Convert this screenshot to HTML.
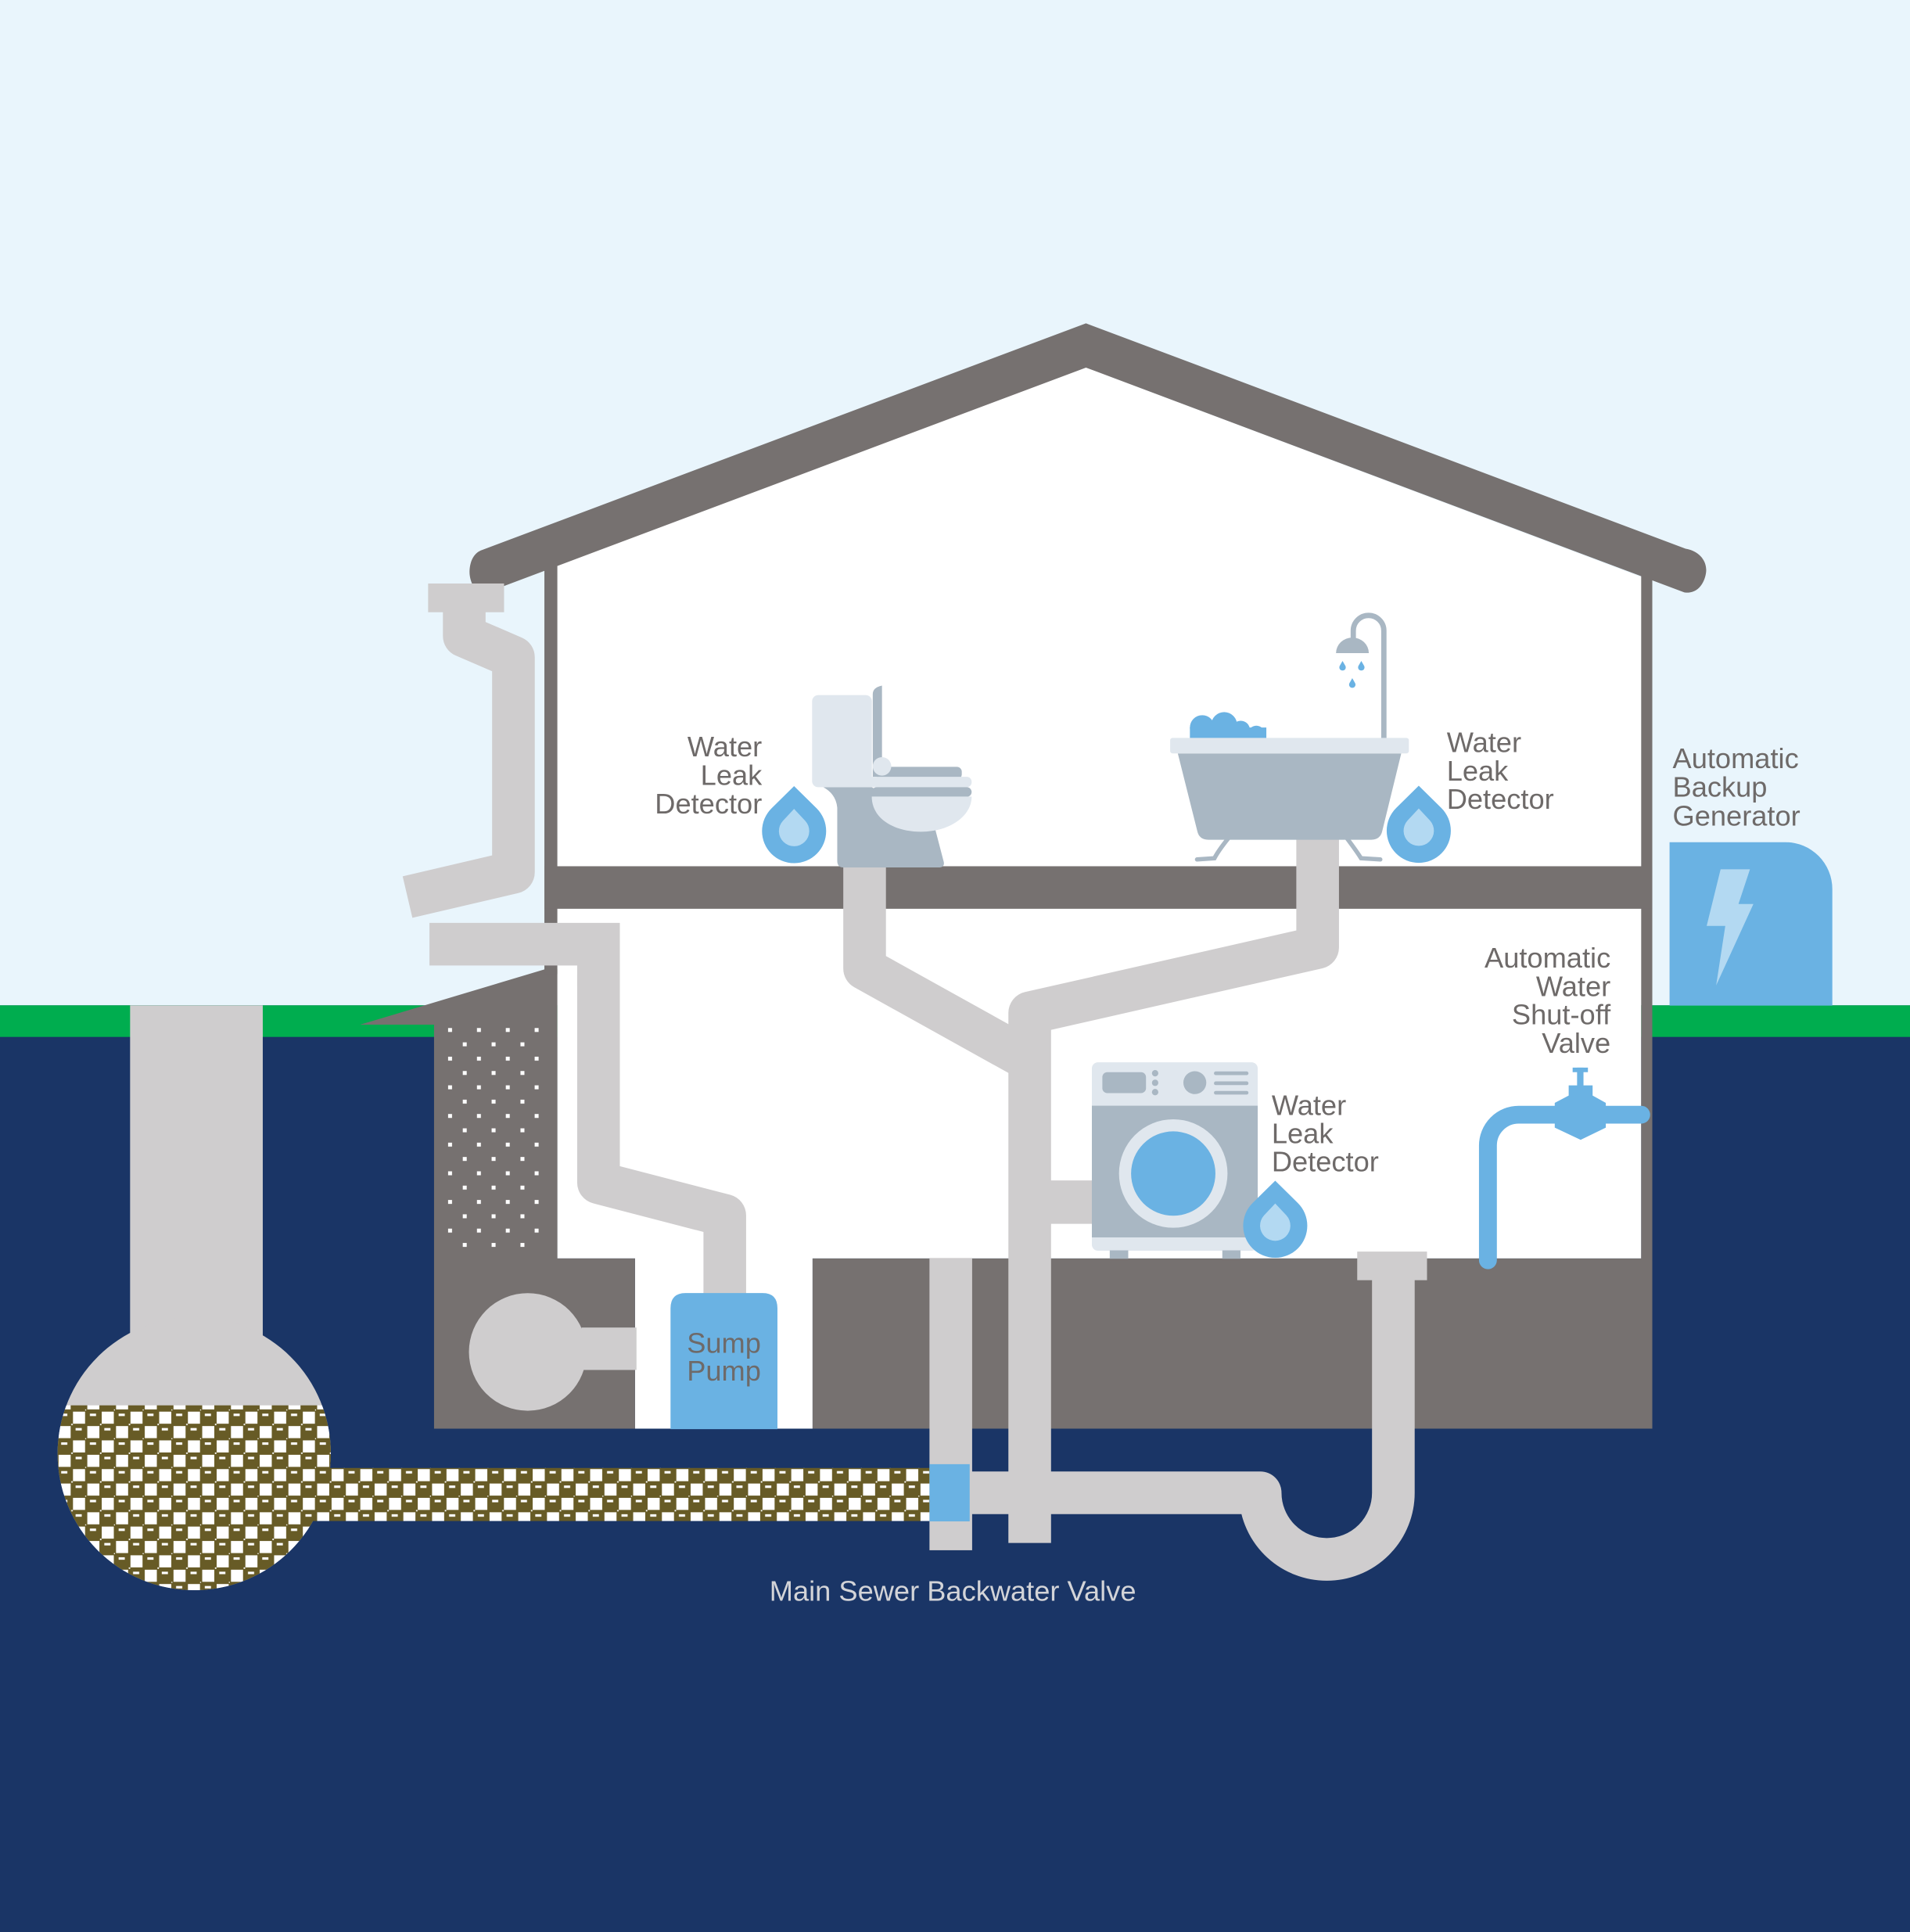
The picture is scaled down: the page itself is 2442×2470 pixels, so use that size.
<!DOCTYPE html>
<html><head><meta charset="utf-8">
<style>
html,body{margin:0;padding:0;background:#1a3566;}
svg{display:block;}
text{font-family:"Liberation Sans",Arial,sans-serif;}
</style></head><body>
<svg width="2442" height="2470" viewBox="0 0 1549 1566.8" preserveAspectRatio="none" xmlns="http://www.w3.org/2000/svg">
<defs>
<pattern id="chk" patternUnits="userSpaceOnUse" x="0" y="1190.5" width="23.3" height="23.3">
 <rect width="23.3" height="23.3" fill="#675b26"/>
 <rect x="12.6" y="0.9" width="9.8" height="9.8" fill="#ffffff"/>
 <rect x="0.9" y="12.6" width="9.8" height="9.8" fill="#ffffff"/>
 <rect x="11.2" y="10.7" width="1.2" height="1.2" fill="#ffffff"/>
 <rect x="22.5" y="22.4" width="0.8" height="0.9" fill="#ffffff"/>
 <rect x="3" y="2.5" width="5" height="2" fill="#ffffff"/>
 <rect x="14.7" y="14.2" width="5" height="2" fill="#ffffff"/>
</pattern>
<pattern id="dots" patternUnits="userSpaceOnUse" x="363.4" y="833.7" width="23.4" height="23.24">
 <rect x="0" y="0" width="3.2" height="3.2" fill="#ffffff"/>
 <rect x="11.9" y="11.62" width="3.2" height="3.2" fill="#ffffff"/>
</pattern>
<clipPath id="bulb"><circle cx="157.5" cy="1178.8" r="110.8"/></clipPath>
</defs>

<!-- background -->
<rect x="0" y="0" width="1549" height="815.3" fill="#e9f5fc"/>
<rect x="0" y="815.3" width="1549" height="25.7" fill="#00ad4f"/>
<rect x="0" y="841" width="1549" height="726" fill="#1a3566"/>

<!-- house interior -->
<polygon points="452,458 880.7,298 1331,468 1331,1020.6 452,1020.6" fill="#ffffff"/>
<rect x="515" y="1020" width="144" height="138.6" fill="#ffffff"/>

<!-- foundation -->
<path d="M292,831 L442,786 L452,786 L452,1020.6 L515,1020.6 L515,1158.6 L352,1158.6 L352,831 Z" fill="#767170"/>
<rect x="362" y="832" width="76" height="180" fill="url(#dots)"/>
<rect x="659" y="1020.6" width="681" height="138" fill="#767170"/>
<rect x="441.5" y="455" width="10.5" height="335" fill="#767170"/>
<rect x="1331" y="460" width="9" height="562" fill="#767170"/>
<rect x="441.5" y="702.5" width="898.5" height="34.5" fill="#767170"/>

<!-- roof -->
<path d="M391,446 L880.7,262.2 L1367,445 C1379,447 1385,456 1383.5,465 C1382,474 1376,482 1366,480.4 L880.7,298.1 L391,481.9 C385,480 380.5,471 380.8,463 C381.2,454 385,448 391,446 Z" fill="#767170"/>

<!-- septic / sewer connection -->
<rect x="105.5" y="815.3" width="107.6" height="280" fill="#cfcdce"/>
<circle cx="157.5" cy="1178.8" r="110.8" fill="#cfcdce"/>
<rect x="40" y="1139.7" width="240" height="160" fill="url(#chk)" clip-path="url(#bulb)"/>
<rect x="230" y="1190.5" width="524" height="43" fill="url(#chk)"/>

<!-- pipes -->
<rect x="347.2" y="473.2" width="61.6" height="23.3" fill="#cfcdce"/>
<g fill="none" stroke="#cfcdce" stroke-width="34.6">
 <path d="M376.5,495 L376.5,515.8 L416.4,533 L416.4,707.4 L330.5,727.5" stroke-linejoin="round"/>
 <path d="M348.3,765.7 L485.4,765.7 L485.4,800" stroke-linejoin="miter"/>
 <path d="M485.4,790 L485.4,959.1 L587.8,985.7 L587.8,1052" stroke-linejoin="round"/>
 <path d="M701.2,700 L701.2,785.5 L835,859.9" stroke-linejoin="round"/>
 <path d="M1068.6,678 L1068.6,768.4 L835.1,821.4 L835.1,1251.3" stroke-linejoin="round"/>
 <path d="M786,1210.6 L1022,1210.6 A54 54 0 0 0 1130,1210.6 L1130,1036" stroke-linejoin="round"/>
</g>
<rect x="852" y="957.3" width="34" height="35.2" fill="#cfcdce"/>
<rect x="753.8" y="1020.2" width="34.6" height="237" fill="#cfcdce"/>
<rect x="753.8" y="1187.4" width="32.6" height="46.4" fill="#6ab2e3"/>
<rect x="1100.7" y="1015" width="56.6" height="23.2" fill="#cfcdce"/>

<!-- sump area -->
<circle cx="428" cy="1096.4" r="47.7" fill="#cfcdce"/>
<rect x="471.7" y="1076.6" width="44.5" height="34.4" fill="#cfcdce"/>
<path d="M543.8,1159 L543.8,1061 Q543.8,1048.6 556,1048.6 L618.5,1048.6 Q630.5,1048.6 630.5,1061 L630.5,1159 Z" fill="#6ab2e3"/>

<!-- toilet -->
<path d="M667.7,638.4 L707,638.4 L757.3,668 L765.4,699 Q766.3,703.5 761,703.5 L684,703.5 Q679,703.5 679,698 L679,655 Q678,644 667.7,638.4 Z" fill="#a9b7c3"/>
<rect x="658.6" y="563.7" width="48.5" height="74.7" rx="5" fill="#e0e7ee"/>
<path d="M715.3,556 L715.3,630 L707.8,630 L707.8,563 Q707.8,557.5 715.3,556 Z" fill="#a9b7c3"/>
<rect x="710.5" y="621.9" width="69.5" height="10" rx="4" fill="#a9b7c3"/>
<circle cx="715.3" cy="621.5" r="7.5" fill="#e0e7ee"/>
<rect x="666.7" y="630" width="121.3" height="8.4" rx="4" fill="#e0e7ee"/>
<rect x="707" y="638.4" width="81" height="7.8" rx="3.9" fill="#a9b7c3"/>
<path d="M707,646 L788,646 C788,662 770,674.5 747,674.5 C725,674.5 707,664 707,646 Z" fill="#e0e7ee"/>

<!-- bathtub & shower -->
<path d="M1122.3,599 L1122.3,511.5 A12.4 12.4 0 0 0 1097.5,511.5 L1097.5,519" fill="none" stroke="#a9b7c3" stroke-width="4.3"/>
<path d="M1083.5,529.7 A13.3 12.7 0 0 1 1110.1,529.7 Z" fill="#a9b7c3"/>
<path d="M1088.8,536 L1091.1,540 A2.6 2.6 0 1 1 1086.5,540 Z" fill="#6ab2e3"/>
<path d="M1104,536 L1106.3,540 A2.6 2.6 0 1 1 1101.7,540 Z" fill="#6ab2e3"/>
<path d="M1096.7,550 L1099,554 A2.6 2.6 0 1 1 1094.4,554 Z" fill="#6ab2e3"/>
<g fill="#6ab2e3">
 <circle cx="975" cy="590" r="10"/>
 <circle cx="992.8" cy="588" r="10.5"/>
 <circle cx="1006.2" cy="592" r="7.5"/>
 <circle cx="1018.9" cy="595.5" r="7"/>
 <rect x="965" y="590" width="62" height="8.5"/>
</g>
<g fill="none" stroke="#a9b7c3" stroke-width="3.5" stroke-linecap="round">
 <path d="M996,680 Q988,690 984.9,696 L970.8,697"/>
 <path d="M1092.5,680 Q1100,690 1103.8,696 L1119.4,697"/>
</g>
<path d="M955.2,611 L1136.4,611 L1121,674 Q1119.4,681 1112,681 L980,681 Q972.5,681 971,674 Z" fill="#a9b7c3"/>
<rect x="949" y="598.4" width="193.6" height="12.6" rx="2" fill="#e0e7ee"/>

<!-- washer -->
<rect x="885.5" y="861.5" width="134.5" height="152.8" rx="5" fill="#e0e7ee"/>
<rect x="885.5" y="896.7" width="134.5" height="106.8" fill="#a9b7c3"/>
<rect x="900" y="1014" width="15" height="6.8" fill="#a9b7c3"/>
<rect x="991.3" y="1014" width="14.7" height="6.8" fill="#a9b7c3"/>
<circle cx="951.5" cy="951.7" r="44" fill="#e0e7ee"/>
<circle cx="951.5" cy="951.7" r="34.2" fill="#6ab2e3"/>
<rect x="894" y="869.5" width="35.4" height="17" rx="4" fill="#a9b7c3"/>
<circle cx="936.8" cy="870.4" r="2.6" fill="#a9b7c3"/>
<circle cx="936.8" cy="878.1" r="2.6" fill="#a9b7c3"/>
<circle cx="936.8" cy="885.7" r="2.6" fill="#a9b7c3"/>
<circle cx="969" cy="878" r="9.3" fill="#a9b7c3"/>
<g stroke="#a9b7c3" stroke-width="3" stroke-linecap="round">
 <line x1="986" y1="870.4" x2="1011" y2="870.4"/>
 <line x1="986" y1="878.5" x2="1011" y2="878.5"/>
 <line x1="986" y1="886.2" x2="1011" y2="886.2"/>
</g>

<!-- water leak drops -->
<g transform="translate(644,674)">
 <path d="M0,-36.5 L18.25,-18.5 A26 26 0 1 1 -18.25,-18.5 Z" fill="#6ab2e3"/>
 <path d="M0,-18 L9.1,-8.3 A12.3 12.3 0 1 1 -9.1,-8.3 Z" fill="#b3d9f2"/>
</g>
<g transform="translate(1150.6,673.7)">
 <path d="M0,-36.5 L18.25,-18.5 A26 26 0 1 1 -18.25,-18.5 Z" fill="#6ab2e3"/>
 <path d="M0,-18 L9.1,-8.3 A12.3 12.3 0 1 1 -9.1,-8.3 Z" fill="#b3d9f2"/>
</g>
<g transform="translate(1034.2,994)">
 <path d="M0,-36.5 L18.25,-18.5 A26 26 0 1 1 -18.25,-18.5 Z" fill="#6ab2e3"/>
 <path d="M0,-18 L9.1,-8.3 A12.3 12.3 0 1 1 -9.1,-8.3 Z" fill="#b3d9f2"/>
</g>

<!-- shut-off valve -->
<path d="M1206.7,1022 L1206.7,929 A25 25 0 0 1 1231.7,904 L1331,904" fill="none" stroke="#6ab2e3" stroke-width="14.5" stroke-linecap="round"/>
<polygon points="1272.2,880.2 1291.6,880.2 1291.6,888.5 1302.3,894.4 1302.3,914.5 1281.9,924.4 1260.9,914.5 1260.9,894.4 1272.2,888.5" fill="#6ab2e3"/>
<rect x="1279" y="865.8" width="5.2" height="15" fill="#6ab2e3"/>
<rect x="1275.4" y="865.8" width="12.4" height="3.7" fill="#6ab2e3"/>

<!-- generator -->
<path d="M1354,683 L1448,683 A38 38 0 0 1 1486,721 L1486,815.5 L1354,815.5 Z" fill="#6ab2e3"/>
<polygon points="1395.4,705 1419.2,705 1409.9,733.1 1422,733.1 1391.8,799.1 1399.2,750.9 1384.1,750.9" fill="#b3d9f2"/>

<!-- labels -->
<g fill="#6e6a69" font-size="23">
 <text x="618" y="613.4" text-anchor="end">Water</text>
 <text x="618" y="636.4" text-anchor="end">Leak</text>
 <text x="618" y="659.6" text-anchor="end">Detector</text>

 <text x="1173.3" y="610">Water</text>
 <text x="1173.3" y="633">Leak</text>
 <text x="1173.3" y="656">Detector</text>

 <text x="1031.3" y="904.4">Water</text>
 <text x="1031.3" y="927.2">Leak</text>
 <text x="1031.3" y="950">Detector</text>

 <text x="1306.2" y="784.8" text-anchor="end">Automatic</text>
 <text x="1306.2" y="807.8" text-anchor="end">Water</text>
 <text x="1306.2" y="830.8" text-anchor="end">Shut-off</text>
 <text x="1306.2" y="853.8" text-anchor="end">Valve</text>

 <text x="1356.5" y="623">Automatic</text>
 <text x="1356.5" y="646">Backup</text>
 <text x="1356.5" y="669.5">Generator</text>

 <text x="587.1" y="1097" text-anchor="middle">Sump</text>
 <text x="587.1" y="1119.5" text-anchor="middle">Pump</text>
</g>
<text x="772.7" y="1298.3" text-anchor="middle" font-size="23" fill="#d3d4d8">Main Sewer Backwater Valve</text>
</svg>
</body></html>
